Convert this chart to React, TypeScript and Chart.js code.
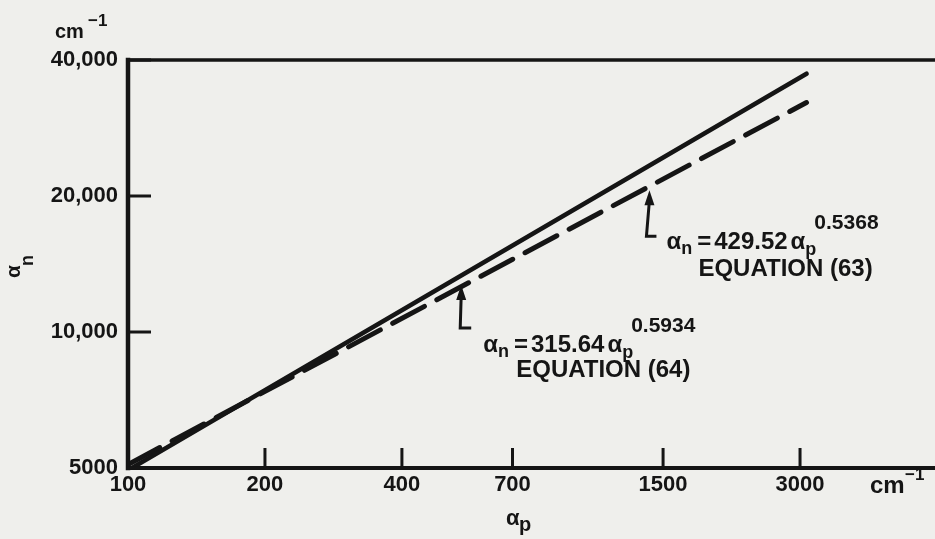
import { useEffect, useRef } from 'react';
import { Chart, registerables } from 'chart.js';

Chart.register(...registerables);

// ---- data ----
const solidX = [102, 3100];
const solidY = [5000, 37300];
const dashedX = [100, 3100];
const dashedY = [5090, 32200];

const xTicks = [100, 200, 400, 700, 1500, 3000];
const xTickLabels = ['100', '200', '400', '700', '1500', '3000'];
const yTicks = [5000, 10000, 20000, 40000];
const yTickLabels = ['5000', '10,000', '20,000', '40,000'];

const eqCoefs = ['429.52', '315.64'];
const eqExps = ['0.5368', '0.5934'];
const eqNames = ['EQUATION (63)', 'EQUATION (64)'];
const eqAnchorX = [1400, 540];
const eqAnchorY = [20600, 12700];

const INK = '#151515';
const FONT = '"Liberation Sans", Arial, sans-serif';

type Part = { t?: string; size?: number; dy?: number; gap?: number };

function seq(ctx: CanvasRenderingContext2D, x: number, y: number, parts: Part[]) {
  let cx = x;
  for (const p of parts) {
    if (p.gap !== undefined) {
      cx += p.gap;
      continue;
    }
    ctx.font = `bold ${p.size}px ${FONT}`;
    ctx.fillText(p.t as string, cx, y + (p.dy || 0));
    cx += ctx.measureText(p.t as string).width;
  }
}

const annLayout = [
  { leg: 46, hook: 10, slant: -3, tx: 17, ty: 59, ex: 49, ey: 86 },
  { leg: 43, hook: 11, slant: -1, tx: 22, ty: 67, ex: 55, ey: 92 },
];

const decorPlugin = {
  id: 'decor',
  afterDraw(chart: any) {
    const ctx: CanvasRenderingContext2D = chart.ctx;
    const { left, right, top, bottom } = chart.chartArea;
    const xs = chart.scales.x;
    const ys = chart.scales.y;
    ctx.save();
    ctx.strokeStyle = INK;
    ctx.fillStyle = INK;
    ctx.lineCap = 'square';

    // frame
    ctx.lineWidth = 3.5;
    ctx.beginPath();
    ctx.moveTo(left, top);
    ctx.lineTo(right + 10, top);
    ctx.stroke();
    ctx.lineWidth = 4.5;
    ctx.beginPath();
    ctx.moveTo(left, top);
    ctx.lineTo(left, bottom);
    ctx.stroke();
    ctx.lineWidth = 4;
    ctx.beginPath();
    ctx.moveTo(left, bottom);
    ctx.lineTo(right + 10, bottom);
    ctx.stroke();

    // inward ticks
    ctx.lineCap = 'butt';
    ctx.lineWidth = 3;
    for (const v of xTicks) {
      const px = xs.getPixelForValue(v);
      ctx.beginPath();
      ctx.moveTo(px, bottom);
      ctx.lineTo(px, bottom - 20);
      ctx.stroke();
    }
    for (const v of yTicks) {
      const py = ys.getPixelForValue(v);
      ctx.beginPath();
      ctx.moveTo(left, py);
      ctx.lineTo(left + 23, py);
      ctx.stroke();
    }

    // annotations
    ctx.textBaseline = 'alphabetic';
    ctx.textAlign = 'left';
    for (let i = 0; i < eqCoefs.length; i++) {
      const L = annLayout[i];
      const tx = xs.getPixelForValue(eqAnchorX[i]);
      const ty = ys.getPixelForValue(eqAnchorY[i]);
      // arrow head
      ctx.beginPath();
      ctx.moveTo(tx, ty);
      ctx.lineTo(tx - 5, ty + 15);
      ctx.lineTo(tx + 5, ty + 15);
      ctx.closePath();
      ctx.fill();
      // leader
      ctx.lineWidth = 3;
      ctx.lineJoin = 'miter';
      ctx.beginPath();
      ctx.moveTo(tx, ty + 10);
      ctx.lineTo(tx + L.slant, ty + L.leg);
      ctx.lineTo(tx + L.slant + L.hook, ty + L.leg);
      ctx.stroke();
      // formula
      seq(ctx, tx + L.tx, ty + L.ty, [
        { t: 'α', size: 24 },
        { t: 'n', size: 18, dy: 5 },
        { gap: 5 },
        { t: '=', size: 24 },
        { gap: 3 },
        { t: eqCoefs[i], size: 24 },
        { gap: 3 },
        { t: 'α', size: 24 },
        { t: 'p', size: 18, dy: 6 },
        { gap: -2 },
        { t: eqExps[i], size: 21, dy: -20 },
      ]);
      seq(ctx, tx + L.ex, ty + L.ey, [{ t: eqNames[i], size: 24 }]);
    }

    // y-axis unit
    seq(ctx, 55, 38, [{ t: 'cm', size: 20 }]);
    seq(ctx, 88, 26, [{ t: '−1', size: 17 }]);
    // x-axis unit
    seq(ctx, 870, 493, [{ t: 'cm', size: 24 }]);
    seq(ctx, 905, 480, [{ t: '−1', size: 17 }]);

    // x title
    seq(ctx, 506, 525, [{ t: 'α', size: 22 }]);
    seq(ctx, 519, 531, [{ t: 'p', size: 20 }]);

    // y title (rotated)
    ctx.translate(20, 278);
    ctx.rotate(-Math.PI / 2);
    ctx.font = `bold 21px ${FONT}`;
    ctx.fillText('α', 0, 0);
    const w = ctx.measureText('α').width;
    ctx.font = `bold 18px ${FONT}`;
    ctx.fillText('n', w - 1, 13);

    ctx.restore();
  },
};

export default function App() {
  const ref = useRef<HTMLCanvasElement>(null);

  useEffect(() => {
    if (!ref.current) return;
    const chart = new Chart(ref.current, {
      type: 'scatter',
      data: {
        datasets: [
          {
            data: solidX.map((x, i) => ({ x, y: solidY[i] })),
            showLine: true,
            borderColor: INK,
            borderWidth: 4.5,
            borderCapStyle: 'round',
            pointRadius: 0,
          },
          {
            data: dashedX.map((x, i) => ({ x, y: dashedY[i] })),
            showLine: true,
            borderColor: INK,
            borderWidth: 5,
            borderCapStyle: 'round',
            borderDash: [36, 14],
            pointRadius: 0,
          },
        ],
      },
      options: {
        animation: false,
        responsive: false,
        maintainAspectRatio: false,
        events: [],
        layout: { padding: { top: 60, left: 0, right: 0, bottom: 0 } },
        plugins: { legend: { display: false }, tooltip: { enabled: false } },
        scales: {
          x: {
            type: 'logarithmic',
            min: 100,
            max: 5940,
            afterBuildTicks: (s: any) => {
              s.ticks = xTicks.map((v) => ({ value: v }));
            },
            afterFit: (s: any) => {
              s.height = 71;
            },
            grid: { display: false, drawTicks: false },
            border: { display: false },
            ticks: {
              color: INK,
              padding: 4,
              maxRotation: 0,
              autoSkip: false,
              font: { family: FONT, size: 22, weight: 'bold' },
              callback: (_v: any, i: number) => xTickLabels[i],
            },
          },
          y: {
            type: 'logarithmic',
            min: 5000,
            max: 40000,
            afterBuildTicks: (s: any) => {
              s.ticks = yTicks.map((v) => ({ value: v }));
            },
            afterFit: (s: any) => {
              s.width = 128;
            },
            grid: { display: false, drawTicks: false },
            border: { display: false },
            ticks: {
              color: INK,
              padding: 10,
              autoSkip: false,
              font: { family: FONT, size: 22, weight: 'bold' },
              callback: (_v: any, i: number) => yTickLabels[i],
            },
          },
        },
      },
      plugins: [decorPlugin],
    } as any);
    return () => chart.destroy();
  }, []);

  return (
    <div
      style={{
        position: 'fixed',
        left: 0,
        top: 0,
        width: 935,
        height: 539,
        background: '#efefec',
      }}
    >
      <canvas ref={ref} width={935} height={539} style={{ display: 'block' }} />
    </div>
  );
}
